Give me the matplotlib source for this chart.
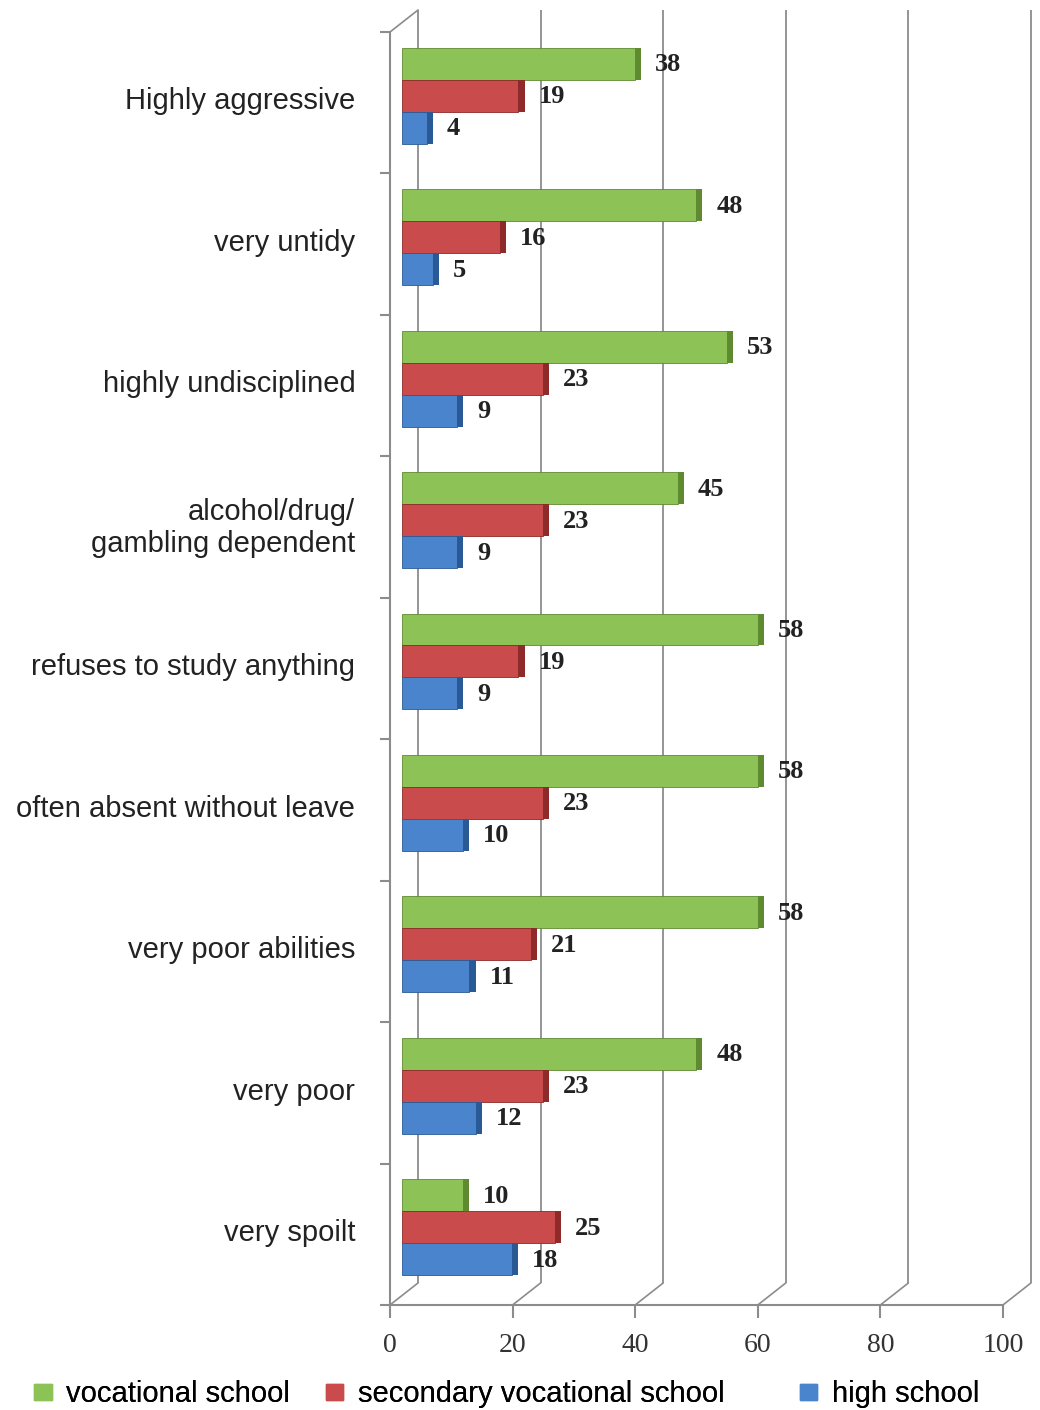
import matplotlib.pyplot as plt
import matplotlib.transforms as mtransforms
from matplotlib.patches import Patch

# Survey shares (%) per category, top to bottom
categories = ["Highly aggressive", "very untidy", "highly undisciplined",
              "alcohol/drug/\ngambling dependent", "refuses to study anything",
              "often absent without leave", "very poor abilities", "very poor",
              "very spoilt"]
vocational = [38, 48, 53, 45, 58, 58, 58, 48, 10]
secondary = [19, 16, 23, 23, 19, 23, 21, 23, 25]
high_school = [4, 5, 9, 9, 9, 10, 11, 12, 18]
series_names = ["vocational school", "secondary vocational school", "high school"]
xticks = [0, 20, 40, 60, 80, 100]

face = ["#8cc256", "#c94b4b", "#4a84cc"]
side = ["#5e8a30", "#8e2a2a", "#2a5a96"]
grid_col = "#8c8c8c"

fig = plt.figure(figsize=(10.4, 14.1), dpi=100)
ax = fig.add_axes([0.375, 0.0745, 0.5894, 0.9028])
ax.set_xlim(0, 100)
ax.set_ylim(8.5, -0.5)

# pseudo-3D offsets in pixels: back wall, bar mid-depth, value labels
back = mtransforms.offset_copy(ax.transData, fig=fig, x=28, y=22, units="dots")
mid = mtransforms.offset_copy(ax.transData, fig=fig, x=12, y=7, units="dots")
lab = mtransforms.offset_copy(ax.transData, fig=fig, x=32, y=6, units="dots")

# back wall gridlines and floor connectors
ax.vlines(xticks, 8.5, -0.5, colors=grid_col, lw=1.3, transform=back, clip_on=False, zorder=1)
for t in xticks:
    ax.annotate("", xy=(t, 8.5), xytext=(28, 22), textcoords="offset pixels",
                arrowprops=dict(arrowstyle="-", color=grid_col, lw=1.2, shrinkA=0, shrinkB=0),
                annotation_clip=False)
ax.annotate("", xy=(0, -0.5), xytext=(28, 22), textcoords="offset pixels",
            arrowprops=dict(arrowstyle="-", color=grid_col, lw=1.2, shrinkA=0, shrinkB=0),
            annotation_clip=False)

h = 0.226
ys = list(range(len(categories)))
for k, vals in enumerate([vocational, secondary, high_school]):
    pos = [y + (k - 1) * h for y in ys]
    ax.barh(pos, vals, height=h, color=face[k], edgecolor=side[k], lw=0.6,
            transform=mid, zorder=3)
    ax.barh(pos, [1.0] * len(vals), left=vals, height=h, color=side[k],
            transform=mid, zorder=3)
    for p, v in zip(pos, vals):
        ax.text(v, p, str(v), transform=lab, ha="left", va="center",
                fontfamily="Liberation Serif", fontweight="bold", fontsize=19,
                color="#222222", zorder=4)

for s in ["top", "right"]:
    ax.spines[s].set_visible(False)
for s in ["left", "bottom"]:
    ax.spines[s].set_color(grid_col)
    ax.spines[s].set_linewidth(1.5)

ax.set_yticks([y - 0.03 for y in ys])
ax.set_yticklabels(categories, fontfamily="Liberation Sans", fontsize=21, color="#222222")
ax.set_yticks([y - 0.5 for y in ys] + [8.5], minor=True)
ax.tick_params(axis="y", which="major", length=0, pad=25)
ax.tick_params(axis="y", which="minor", length=7, width=1.5, color=grid_col)

ax.set_xticks(xticks)
ax.set_xticklabels([str(t) for t in xticks], fontfamily="Liberation Serif", fontsize=20, color="#333333")
ax.tick_params(axis="x", length=9, width=1.5, color=grid_col, pad=11)

# one legend box per series so each entry sits at its own spot along the bottom
leg_x = [0.019, 0.299, 0.755]
for c, name, lx in zip(face, series_names, leg_x):
    lg = fig.legend([Patch(color=c)], [name], loc="lower left", bbox_to_anchor=(lx, -0.009),
                    frameon=False, borderpad=0, handlelength=0.6, handleheight=0.45,
                    handletextpad=0.5, prop={"family": "Liberation Sans", "size": 21})
    fig.add_artist(lg)

fig.savefig("out.png", dpi=100, facecolor="white")
